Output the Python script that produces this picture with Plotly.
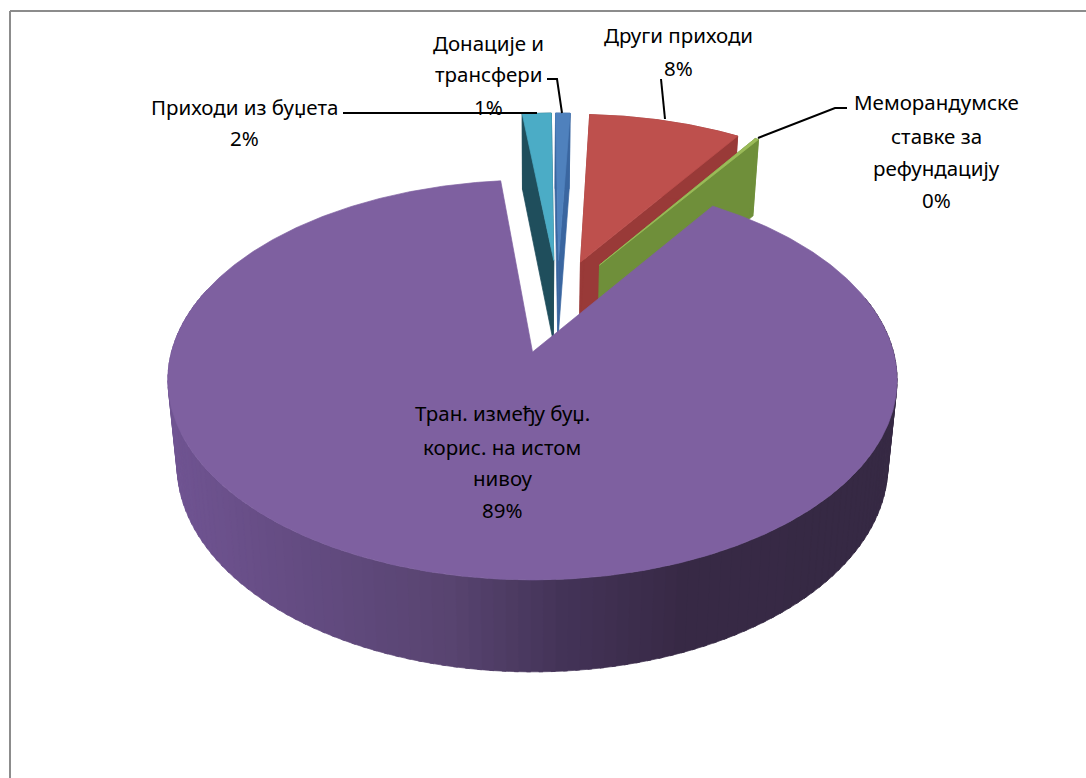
import numpy as np
import plotly.graph_objects as go

# ---- data (clockwise from 12 o'clock) ----
categories = ["Донације и трансфери", "Други приходи", "Меморандумске ставке за рефундацију",
              "Тран. између буџ. корис. на истом нивоу", "Приходи из буџета"]
values = [0.8, 8.4, 0.2, 89.0, 1.6]

# ---- style / layout ----
label_lines = [["Донације и", "трансфери"], ["Други приходи"],
               ["Меморандумске", "ставке за", "рефундацију"],
               ["Тран. између буџ.", "корис. на истом", "нивоу"],
               ["Приходи из буџета"]]
label_x = [488, 678, 936, 502, 244]
label_y = [[43, 74, 107], [35, 68], [102, 136, 168, 200], [413, 447, 478, 510], [107, 138]]
top_colors = ["#4f81bd", "#be504d", "#9bbb59", "#7e60a0", "#4bacc6"]
wall_colors = ["#3a66a0", "#993a38", "#6f8f3a", None, "#1f4e5c"]
explode = [(0.077, -0.50), (0.142, -0.49), (0.198, -0.473), (0.0, 0.0), (0.063, -0.50)]
radius = [0.97, 0.97, 0.97, 1.0, 0.97]
draw_order = [4, 0, 1, 2, 3]
CX, CY, A, B, K, S, D = 532.5, 352, 361, 196, 0.14, 0.975, 84
grad_x = [170, 300, 450, 560, 680, 900]
grad_rgb = [(112, 84, 146), (100, 76, 130), (88, 68, 112), (68, 52, 88), (56, 42, 70), (54, 41, 68)]
FONT = "Noto Sans"
FSIZE = 20.5


def project(u, v, depth):
    p = 1 / (1 - K * v)
    s = S if depth else 1.0
    return CX + A * u * p * s, CY + B * v * p * s + D * p * depth


def poly(fig, xs, ys, color, name):
    xs = list(xs) + [xs[0]]
    ys = list(ys) + [ys[0]]
    fig.add_trace(go.Scatter(x=xs, y=ys, mode="lines", fill="toself", fillcolor=color,
                             line=dict(color=color, width=0.7), hoverinfo="skip",
                             name=name, showlegend=False))


def grad(x):
    c = [np.interp(x, grad_x, [g[i] for g in grad_rgb]) for i in range(3)]
    return "rgb(%d,%d,%d)" % tuple(c)


fig = go.Figure()
angles = np.cumsum([0] + values) / sum(values) * 2 * np.pi
for i in draw_order:
    t0, t1 = angles[i], angles[i + 1]
    ou, ov = explode[i]
    r = radius[i]
    n = max(int((t1 - t0) / 0.01), 2)
    t = np.linspace(t0, t1, n)
    au, av = ou + r * np.sin(t), ov - r * np.cos(t)
    tx, ty = project(au, av, 0)
    bx, by = project(au, av, 1)
    axt, ayt = project(ou, ov, 0)
    axb, ayb = project(ou, ov, 1)
    if wall_colors[i]:
        # radial cut faces, far-side first
        poly(fig, [axt, tx[-1], bx[-1], axb], [ayt, ty[-1], by[-1], ayb], wall_colors[i], categories[i])
        poly(fig, [axt, tx[0], bx[0], axb], [ayt, ty[0], by[0], ayb], wall_colors[i], categories[i])
        poly(fig, list(tx) + list(bx[::-1]), list(ty) + list(by[::-1]), wall_colors[i], categories[i])
    else:
        # outer rim, one shaded strip at a time
        for j in range(0, n - 1, 3):
            k = min(j + 4, n - 1)
            if np.cos(t[j]) > 0.3:
                continue
            poly(fig, list(tx[j:k + 1]) + list(bx[j:k + 1][::-1]),
                 list(ty[j:k + 1]) + list(by[j:k + 1][::-1]),
                 grad(tx[j:k + 1].mean()), categories[i])
    poly(fig, [axt] + list(tx), [ayt] + list(ty), top_colors[i], categories[i])

# leader lines
leaders = [([547, 557, 562], [79, 79, 113]), ([661, 665], [79, 119]),
           ([847, 835, 758], [108, 108, 138]), ([343, 537], [113, 113])]
for lx, ly in leaders:
    fig.add_trace(go.Scatter(x=lx, y=ly, mode="lines", line=dict(color="#000", width=2),
                             hoverinfo="skip", showlegend=False))

# labels
total = sum(values)
for i, lines in enumerate(label_lines):
    full = lines + [f"{round(values[i] / total * 100)}%"]
    for txt, y in zip(full, label_y[i]):
        fig.add_annotation(x=label_x[i], y=y, text=txt, showarrow=False, xanchor="center", yanchor="middle",
                           font=dict(family=FONT, size=FSIZE, color="#000"))

frame = dict(type="line", xref="x", yref="y", line=dict(color="#8c8c8c", width=2))
fig.update_layout(width=1086, height=778, margin=dict(l=0, r=0, t=0, b=0), paper_bgcolor="white",
                  plot_bgcolor="white", showlegend=False, hovermode=False,
                  xaxis=dict(range=[0, 1086], visible=False, fixedrange=True),
                  yaxis=dict(range=[778, 0], visible=False, fixedrange=True),
                  shapes=[dict(frame, x0=10, x1=1086, y0=11, y1=11), dict(frame, x0=10, x1=10, y0=11, y1=778)])
fig.write_html("out.html", post_script="document.body.style.margin='0';", config={"displayModeBar": False})
